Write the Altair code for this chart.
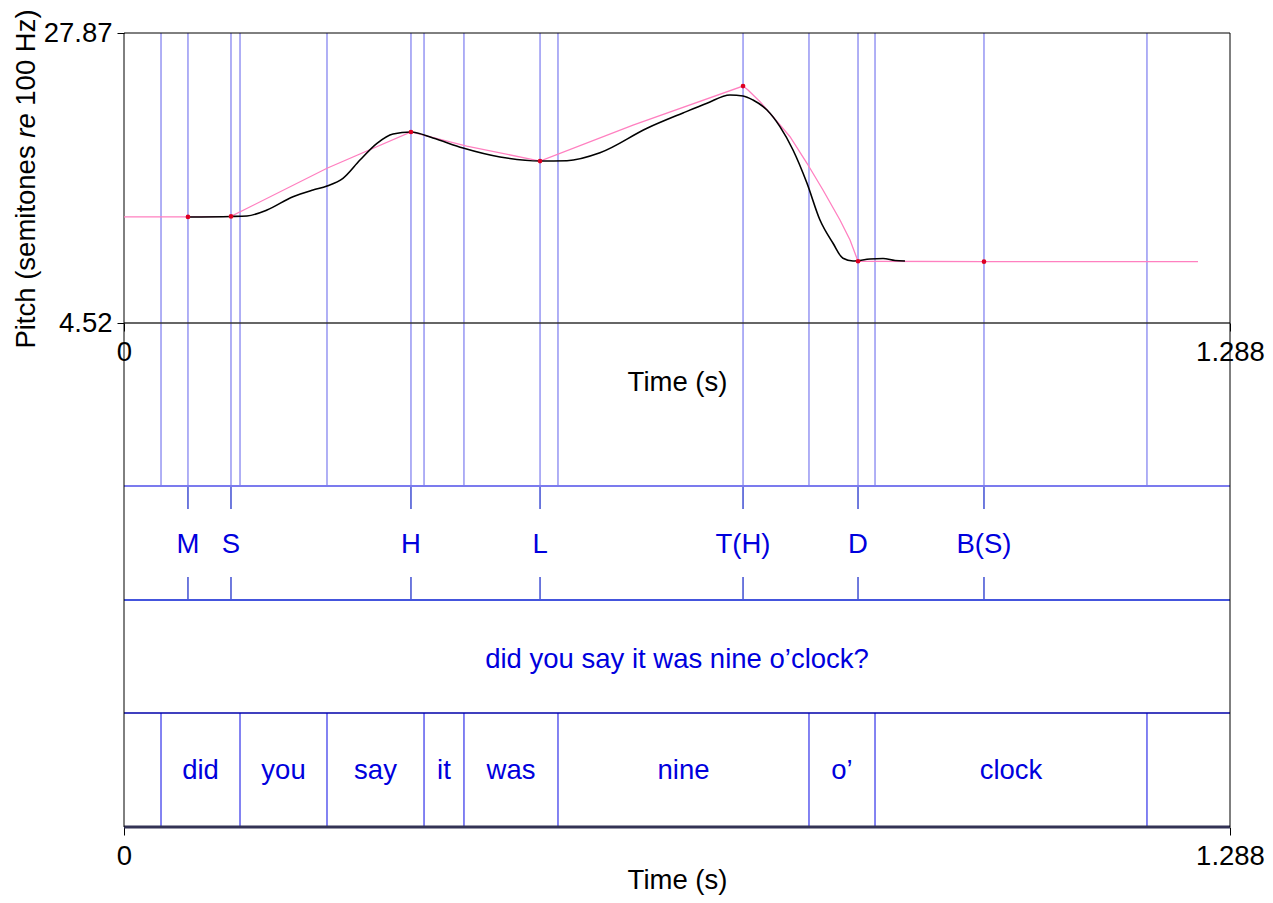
import altair as alt
import pandas as pd

# ---------------- data ----------------
TIME_MAX = 1.288
PITCH_MIN = 4.52
PITCH_MAX = 27.87

# smoothed pitch contour (black), time in s, pitch in semitones re 100 Hz
contour_t = [0.0745, 0.1246, 0.1432, 0.1665, 0.1968, 0.2201, 0.2364, 0.2550, 0.2748,
             0.2946, 0.3133, 0.3342, 0.3598, 0.3948, 0.4379, 0.4845, 0.5159, 0.5543,
             0.6091, 0.6510, 0.6789, 0.7057, 0.7209, 0.7325, 0.7488, 0.7639, 0.7791,
             0.7954, 0.8105, 0.8257, 0.8373, 0.8490, 0.8688, 0.8839, 0.8979, 0.9095]
contour_st = [13.06, 13.10, 13.14, 13.62, 14.69, 15.23, 15.55, 16.17, 17.64,
              18.99, 19.74, 19.90, 19.42, 18.61, 17.89, 17.56, 17.59, 18.23,
              20.20, 21.43, 22.21, 22.88, 22.80, 22.47, 21.67, 20.33, 18.45,
              15.77, 12.81, 10.94, 9.73, 9.51, 9.67, 9.71, 9.55, 9.51]

# stylised contour (pink)
stylized_t = [0.0, 0.0745, 0.1246, 0.2364, 0.3342, 0.3991, 0.4845, 0.5928, 0.7209, 0.7267,
              0.7407, 0.7558, 0.7756, 0.7954, 0.8140, 0.8338, 0.8455, 0.8548, 1.0015, 1.2507]
stylized_st = [13.06, 13.06, 13.10, 16.98, 19.90, 18.77, 17.56, 20.46, 23.60, 23.28,
               22.34, 21.13, 19.52, 17.38, 15.23, 12.81, 11.20, 9.49, 9.46, 9.46]

# tone targets (tier 1 points, red dots)
tone_labels = ["M", "S", "H", "L", "T(H)", "D", "B(S)"]
tone_t = [0.0745, 0.1246, 0.3342, 0.4845, 0.7209, 0.8548, 1.0015]
tone_st = [13.06, 13.10, 19.90, 17.56, 23.60, 9.49, 9.46]

# sentence tier
sentence = "did you say it was nine o\u2019clock?"

# word tier
word_labels = ["did", "you", "say", "it", "was", "nine", "o\u2019", "clock"]
word_bounds = [0.0431, 0.1351, 0.2364, 0.3494, 0.3959, 0.5054, 0.7977, 0.8746, 1.1913]

# ---------------- layout / style ----------------
W, H = 1106, 794        # plot area (x 124..1230, y 33..827 on the page)
PH = 290                # pitch panel height
FONT = "Liberation Sans"
FS = 27.5
TXT_BLUE = "#0000dd"

contour_df = pd.DataFrame({"t": contour_t, "st": contour_st})
stylized_df = pd.DataFrame({"t": stylized_t, "st": stylized_st})
tone_df = pd.DataFrame({"t": tone_t, "st": tone_st, "label": tone_labels})
words_df = pd.DataFrame({"start": word_bounds[:-1], "end": word_bounds[1:], "label": word_labels})
words_df["mid"] = (words_df["start"] + words_df["end"]) / 2
bounds_df = pd.DataFrame({"t": word_bounds})
vlines_df = pd.DataFrame({"t": word_bounds + tone_t})
sentence_df = pd.DataFrame({"mid": [TIME_MAX / 2], "label": [sentence]})
span_df = pd.DataFrame({"t0": [0.0], "t1": [TIME_MAX]})
sides_df = pd.DataFrame({"t": [0.0, TIME_MAX]})
dummy = pd.DataFrame({"k": [0]})

x_scale = alt.Scale(domain=[0, TIME_MAX], nice=False, zero=False)

TIME_LABEL_EXPR = "datum.value == 0 ? '0' : format(datum.value, '.3f')"


def time_axis(offset, title_y):
    return alt.Axis(orient="bottom", offset=offset, values=[0, TIME_MAX],
                    labelExpr=TIME_LABEL_EXPR,
                    title="Time (s)", tickSize=8, tickColor="black", tickWidth=1,
                    labelPadding=7, labelFlush=False, labelOverlap=False, domain=False,
                    grid=False, titleY=title_y, titleBaseline="alphabetic")


bottom_axis = time_axis(0, 61)


def gx(field):
    return alt.X(field, type="quantitative", scale=x_scale, axis=bottom_axis)


# ---------------- grid (TextGrid + frame) ----------------
vlines = alt.Chart(vlines_df).mark_rule(color="#7b7bef", strokeWidth=1.2).encode(
    x=gx("t"), y=alt.value(0), y2=alt.value(453))

tone_tick_a = alt.Chart(tone_df).mark_rule(color="#2233cc", strokeWidth=1.3).encode(
    x=gx("t"), y=alt.value(453), y2=alt.value(476))
tone_tick_b = alt.Chart(tone_df).mark_rule(color="#2233cc", strokeWidth=1.3).encode(
    x=gx("t"), y=alt.value(544), y2=alt.value(567))

word_lines = alt.Chart(bounds_df).mark_rule(color="#5a5aee", strokeWidth=1.5).encode(
    x=gx("t"), y=alt.value(680), y2=alt.value(794))


def hline(ypix, color, width):
    return alt.Chart(span_df).mark_rule(color=color, strokeWidth=width).encode(
        x=gx("t0"), x2="t1", y=alt.value(ypix))


h_tier1 = hline(453, "#7b7bee", 2)
h_tier2 = hline(567, "#4455dd", 2)
h_tier3 = hline(680, "#0000aa", 1.5)
h_bottom = hline(794, "#333355", 3)
h_top = hline(0, "black", 1)
h_pitch_bottom = hline(PH, "#333333", 1.5)

sides = alt.Chart(sides_df).mark_rule(color="black", strokeWidth=1).encode(
    x=gx("t"), y=alt.value(0), y2=alt.value(H))

tone_text = alt.Chart(tone_df).mark_text(font=FONT, fontSize=FS, color=TXT_BLUE,
                                         align="center", baseline="alphabetic").encode(
    x=gx("t"), y=alt.value(520), text="label:N")

sentence_text = alt.Chart(sentence_df).mark_text(font=FONT, fontSize=FS, color=TXT_BLUE,
                                                 align="center", baseline="alphabetic").encode(
    x=gx("mid"), y=alt.value(635), text="label:N")

word_text = alt.Chart(words_df).mark_text(font=FONT, fontSize=FS, color=TXT_BLUE,
                                          align="center", baseline="alphabetic").encode(
    x=gx("mid"), y=alt.value(746), text="label:N")

# y-axis title with italic "re"
TFS = 27.5
ytitle_parts = []
for txt, ypos, style in [("Pitch (semitones", 315.6, "normal"),
                         ("re", 104.7, "italic"),
                         ("100 Hz)", 72.7, "normal")]:
    ytitle_parts.append(
        alt.Chart(dummy).mark_text(font=FONT, fontSize=TFS, fontStyle=style, color="black",
                                   angle=270, align="left", baseline="alphabetic").encode(
            x=alt.value(-89), y=alt.value(ypos), text=alt.value(txt)))

grid = alt.layer(vlines, tone_tick_a, tone_tick_b, word_lines,
                 h_tier1, h_tier2, h_tier3, h_bottom, h_top, h_pitch_bottom, sides,
                 tone_text, sentence_text, word_text, *ytitle_parts)

# ---------------- pitch panel ----------------
pitch_x = alt.X("t:Q", scale=x_scale, axis=time_axis(PH - H, 67))
pitch_y = alt.Y("st:Q",
                scale=alt.Scale(domain=[PITCH_MIN, PITCH_MAX], range=[PH, 0], nice=False, zero=False),
                axis=alt.Axis(values=[PITCH_MIN, PITCH_MAX], format=".2f", title=None,
                              tickSize=7, tickColor="black", labelPadding=5, domain=False,
                              grid=False, labelFlush=False, labelOverlap=False))

stylized = alt.Chart(stylized_df).mark_line(color="#ff80c0", strokeWidth=1.3).encode(
    x=pitch_x, y=pitch_y, order="t:Q")
contour = alt.Chart(contour_df).mark_line(color="black", strokeWidth=1.6, interpolate="monotone").encode(
    x=pitch_x, y=pitch_y, order="t:Q")
dots = alt.Chart(tone_df).mark_circle(color="#dd0022", size=22, opacity=1).encode(
    x=pitch_x, y=pitch_y)

pitch = alt.layer(stylized, contour, dots)

chart = alt.layer(grid, pitch).resolve_scale(x="independent").resolve_axis(x="independent").properties(
    width=W, height=H,
    autosize=alt.AutoSizeParams(type="none"),
    padding={"left": 116, "top": 25, "right": 35, "bottom": 68},
).configure_view(stroke=None).configure_axis(
    labelFont=FONT, labelFontSize=FS, labelColor="black",
    titleFont=FONT, titleFontSize=FS, titleFontWeight="normal", titleColor="black",
)

chart.save("out.html", embed_options={"renderer": "svg", "actions": False})
